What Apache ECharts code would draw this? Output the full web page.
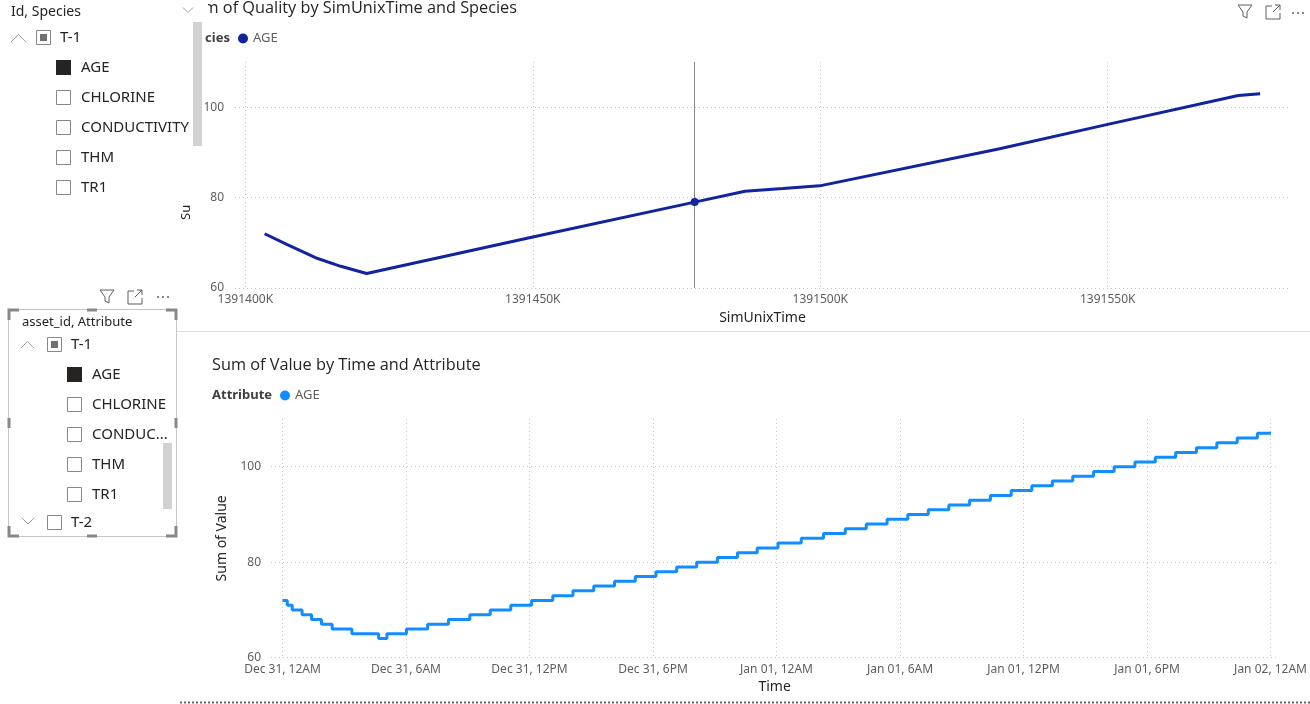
<!DOCTYPE html>
<html><head><meta charset="utf-8">
<script src="https://cdn.jsdelivr.net/npm/echarts@6/dist/echarts.min.js"></script>
<style>html,body{margin:0;padding:0;background:#fff}#c{width:1310px;height:704px}</style>
</head><body><div id="c"></div>
<script>
// ---------------- data ----------------
// Top chart: Sum of Quality by SimUnixTime (seconds) for species AGE
const simTime = [1391403350, 1391407300, 1391412200, 1391416600, 1391421100, 1391450000, 1391478150, 1391486900, 1391493500, 1391499900, 1391531200, 1391550000, 1391572700, 1391576500];
const qualityAge = [72.0, 69.6, 66.7, 64.8, 63.2, 71.3, 79.0, 81.4, 82.0, 82.6, 90.8, 96.2, 102.6, 103.0];
const hoverIndex = 6;
const simTicks = [1391400000, 1391450000, 1391500000, 1391550000];
const qualityTicks = [60, 80, 100];

// Bottom chart: Sum of Value by Time (hours after Dec 31, 12AM) for attribute AGE
const timeHours = [0.0, 0.23, 0.47, 0.95, 1.41, 1.89, 2.41, 3.37, 4.67, 5.07, 6.02, 7.05, 8.06, 9.10, 10.09, 11.09, 12.10, 13.13, 14.11, 15.12, 16.13, 17.14, 18.14, 19.15, 20.12, 21.13, 22.10, 23.06, 24.07, 25.20, 26.28, 27.34, 28.36, 29.37, 30.38, 31.37, 32.37, 33.38, 34.39, 35.40, 36.40, 37.40, 38.39, 39.40, 40.40, 41.41, 42.40, 43.39, 44.40, 45.39, 46.38, 47.36, 48.02];
const valueAge = [72, 71, 70, 69, 68, 67, 66, 65, 64, 65, 66, 67, 68, 69, 70, 71, 72, 73, 74, 75, 76, 77, 78, 79, 80, 81, 82, 83, 84, 85, 86, 87, 88, 89, 90, 91, 92, 93, 94, 95, 96, 97, 98, 99, 100, 101, 102, 103, 104, 105, 106, 107, 107];
const timeTickHours = [0, 6, 12, 18, 24, 30, 36, 42, 48];
const timeTickLabels = ['Dec 31, 12AM', 'Dec 31, 6AM', 'Dec 31, 12PM', 'Dec 31, 6PM', 'Jan 01, 12AM', 'Jan 01, 6AM', 'Jan 01, 12PM', 'Jan 01, 6PM', 'Jan 02, 12AM'];
const valueTicks = [60, 80, 100];

// Slicers
const slicer1Title = 'Id, Species';
const slicer2Title = 'asset_id, Attribute';
const slicerItems = ['AGE', 'CHLORINE', 'CONDUCTIVITY', 'THM', 'TR1'];
const groups = ['T-1', 'T-2'];

// ---------------- styles ----------------
const FONT = '"Noto Sans", "Open Sans", sans-serif';
const TXT = '#252423', LBL = '#605E5C', GRID = '#C8C6C4';
const C1 = '#12239E', C2 = '#118DFF';

const G = [];
function T(x, y, text, size, opt) {
  G.push({type: 'text', x: x, y: y, z: 120, style: Object.assign({text: text, fill: TXT, fontSize: size, fontFamily: FONT, align: 'left', verticalAlign: 'middle'}, opt || {})});
}
function R(x, y, w, h, style, z) { G.push({type: 'rect', shape: {x: x, y: y, width: w, height: h}, style: style, z: z || 120}); }
function P(points, style, z) { G.push({type: 'polyline', shape: {points: points}, style: Object.assign({fill: null, lineWidth: 1}, style), z: z || 120}); }
function L(x1, y1, x2, y2, style, z) { G.push({type: 'line', shape: {x1: x1, y1: y1, x2: x2, y2: y2}, style: style, z: z || 120}); }
function C(cx, cy, r, fill) { G.push({type: 'circle', shape: {cx: cx, cy: cy, r: r}, style: {fill: fill}, z: 120}); }
function funnel(x, y) { P([[x, y], [x + 14, y], [x + 9, y + 7], [x + 9, y + 13], [x + 5, y + 11], [x + 5, y + 7], [x, y]], {stroke: LBL}); }
function expand(x, y) {
  P([[x + 6, y], [x, y], [x, y + 13], [x + 14, y + 13], [x + 14, y + 7]], {stroke: LBL});
  L(x + 7, y + 6, x + 14, y - 1, {stroke: LBL, lineWidth: 1});
  P([[x + 9, y - 1], [x + 14, y - 1], [x + 14, y + 4]], {stroke: LBL});
}
function dots(x, y) { C(x, y, 1, LBL); C(x + 5, y, 1, LBL); C(x + 10, y, 1, LBL); }
function box(x, y, mode) {
  if (mode === 'full') { R(x, y, 15, 15, {fill: TXT}); return; }
  R(x + 0.5, y + 0.5, 14, 14, {fill: '#fff', stroke: '#8A8886', lineWidth: 1});
  if (mode === 'part') R(x + 4, y + 4, 7, 7, {fill: '#717070'});
}

// covers (report canvas overlap of slicer over the top visual)
R(0, 0, 205, 205, {fill: '#fff'}, 105);
R(0, 0, 208, 24, {fill: '#fff'}, 105);

// Top visual title + legend
T(517, 8.5, 'Sum of Quality by SimUnixTime and Species', 16.3, {align: 'right', fontFamily: '"Open Sans", sans-serif'});
G[G.length - 1].z = 100;
T(230, 38.5, 'Species', 13, {align: 'right', fontWeight: 'bold', fill: '#404040'});
G[G.length - 1].z = 100;
P([[183, 7.5], [188, 12.5], [193, 7.5]], {stroke: '#A19F9D'});
funnel(1238, 5); expand(1266, 6); dots(1293, 13);

// Slicer 1
T(11, 12.5, slicer1Title, 14);
P([[11, 42], [18.5, 34.5], [26, 42]], {stroke: '#A19F9D'});
box(36, 30, 'part');
T(60, 37.5, groups[0], 15);
slicerItems.forEach(function (s, i) {
  box(56, 60 + 30 * i, i === 0 ? 'full' : 'empty');
  T(81, 67.5 + 30 * i, s, 15);
});
R(193, 22, 9, 124, {fill: '#D2D2D2'});

// Slicer 2
funnel(100, 290); expand(128, 291); dots(158, 297);
R(8.5, 309.5, 168, 227, {fill: '#fff', stroke: '#C8C6C4', lineWidth: 1}, 110);
const HS = {stroke: '#8A8886', lineWidth: 3};
P([[9, 320], [9, 310], [19, 310]], HS); P([[166, 310], [176, 310], [176, 320]], HS);
P([[9, 526], [9, 536], [19, 536]], HS); P([[166, 536], [176, 536], [176, 526]], HS);
L(87, 310, 97, 310, HS); L(87, 536, 97, 536, HS); L(9, 418, 9, 428, HS); L(176, 418, 176, 428, HS);
T(22, 322.5, slicer2Title, 13);
P([[21, 348], [27.5, 341.5], [34, 348]], {stroke: '#A19F9D'});
box(47, 337, 'part');
T(71, 344.5, groups[0], 15);
slicerItems.forEach(function (s, i) {
  box(67, 367 + 30 * i, i === 0 ? 'full' : 'empty');
  T(92, 374.5 + 30 * i, s, 15, {width: 80, overflow: 'truncate', ellipsis: '...'});
});
R(163, 443, 9, 66, {fill: '#D2D2D2'});
P([[22, 518], [28, 524], [34, 518]], {stroke: '#A19F9D'});
box(47, 515, 'empty');
T(71, 523, groups[1], 15);

// divider + bottom visual
L(177, 331.5, 1310, 331.5, {stroke: '#E1DFDD', lineWidth: 1});
T(212, 365.5, 'Sum of Value by Time and Attribute', 16.3, {fontFamily: '"Open Sans", sans-serif'});
T(212, 395.5, 'Attribute', 13, {fontWeight: 'bold', fill: '#404040'});
L(180, 702.5, 1310, 702.5, {stroke: '#666', lineWidth: 2, lineDash: [2, 2]});

const gridLine = {show: true, lineStyle: {color: GRID, width: 1, type: [1, 3]}};
const chart = echarts.init(document.getElementById('c'), null, {renderer: 'canvas'});
chart.setOption({
  animation: false,
  backgroundColor: '#fff',
  textStyle: {fontFamily: FONT},
  grid: [
    {left: 235, right: 20, top: 62, height: 226},
    {left: 271, right: 31.5, top: 419, height: 238.7}
  ],
  legend: [
    {left: 238, top: 32, padding: 0, icon: 'circle', itemWidth: 10, itemHeight: 10,
     data: [{name: 'AGE', itemStyle: {color: C1}}], textStyle: {fontSize: 13, color: LBL}, selectedMode: false},
    {left: 280, top: 389, padding: 0, icon: 'circle', itemWidth: 10, itemHeight: 10,
     data: [{name: 'AGE', itemStyle: {color: C2}}], textStyle: {fontSize: 13, color: LBL}, selectedMode: false}
  ],
  xAxis: [
    {type: 'value', gridIndex: 0, min: 1391398200, max: 1391581700,
     axisLine: {show: false}, axisTick: {show: false, customValues: simTicks},
     axisLabel: {customValues: simTicks, color: LBL, fontSize: 12, margin: 6, formatter: function (v) { return Math.round(v / 1000) + 'K'; }},
     splitLine: gridLine,
     name: 'SimUnixTime', nameLocation: 'middle', nameGap: 23, nameTextStyle: {color: TXT, fontSize: 14}},
    {type: 'value', gridIndex: 1, min: -0.56, max: 48.37,
     axisLine: {show: false}, axisTick: {show: false, customValues: timeTickHours},
     axisLabel: {customValues: timeTickHours, color: LBL, fontSize: 12, margin: 6, formatter: function (v) { return timeTickLabels[timeTickHours.indexOf(Math.round(v))] || ''; }},
     splitLine: gridLine,
     name: 'Time', nameLocation: 'middle', nameGap: 22, nameTextStyle: {color: TXT, fontSize: 14}}
  ],
  yAxis: [
    {type: 'value', gridIndex: 0, min: 60, max: 110,
     axisLine: {show: false}, axisTick: {show: false, customValues: qualityTicks},
     axisLabel: {customValues: qualityTicks, color: LBL, fontSize: 12, margin: 11},
     splitLine: gridLine,
     name: 'Sum of Quality', nameLocation: 'middle', nameGap: 38, nameTextStyle: {color: TXT, fontSize: 13}},
    {type: 'value', gridIndex: 1, min: 60, max: 110,
     axisLine: {show: false}, axisTick: {show: false, customValues: valueTicks},
     axisLabel: {customValues: valueTicks, color: LBL, fontSize: 12, margin: 10},
     splitLine: gridLine,
     name: 'Sum of Value', nameLocation: 'middle', nameGap: 42, nameTextStyle: {color: TXT, fontSize: 14}}
  ],
  series: [
    {name: 'AGE', type: 'line', xAxisIndex: 0, yAxisIndex: 0, showSymbol: false, silent: true,
     data: simTime.map(function (t, i) { return [t, qualityAge[i]]; }),
     lineStyle: {color: C1, width: 3}, itemStyle: {color: C1},
     markLine: {silent: true, symbol: 'none', label: {show: false}, lineStyle: {color: '#8A8A8A', width: 1, type: 'solid'},
                data: [{xAxis: simTime[hoverIndex]}]},
     markPoint: {silent: true, symbol: 'circle', symbolSize: 8, label: {show: false}, itemStyle: {color: C1},
                 data: [{coord: [simTime[hoverIndex], qualityAge[hoverIndex]]}]}},
    {name: 'AGE', type: 'line', xAxisIndex: 1, yAxisIndex: 1, showSymbol: false, silent: true, step: 'end',
     data: timeHours.map(function (t, i) { return [t, valueAge[i]]; }),
     lineStyle: {color: C2, width: 3}, itemStyle: {color: C2}}
  ],
  graphic: {elements: G}
});
</script>
</body></html>
